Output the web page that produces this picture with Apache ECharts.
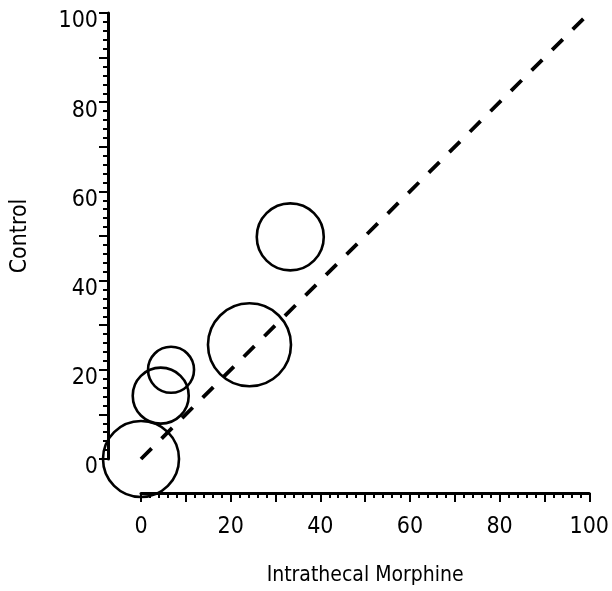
<!DOCTYPE html>
<html>
<head>
<meta charset="utf-8">
<script src="https://cdn.jsdelivr.net/npm/echarts@6/dist/echarts.min.js"></script>
<style>html,body{margin:0;padding:0;background:#fff}#c{width:612px;height:591px}</style>
</head>
<body>
<div id="c"></div>
<script>
// Data
var morphineX = [0, 4.4, 6.7, 24.2, 33.3];
var controlY = [0, 14.2, 20.0, 25.6, 49.8];
var bubbleWeights = [7.6, 5.6, 4.6, 8.3, 6.7];
var identityLine = [0, 100];
var xTicks = [0, 20, 40, 60, 80, 100];
var yTicks = [0, 20, 40, 60, 80, 100];
var xName = 'Intrathecal Morphine';
var yName = 'Control';

var FONT = "'DejaVu Sans Condensed', 'Liberation Sans', sans-serif";
var bubbles = morphineX.map(function (x, i) { return [x, controlY[i], bubbleWeights[i]]; });
var diag = identityLine.map(function (v) { return [v, v]; });

function axisCommon(ticks, isX) {
  return {
    type: 'value',
    min: ticks[0],
    max: ticks[ticks.length - 1],
    interval: 10,
    name: isX ? xName : yName,
    nameLocation: 'middle',
    nameGap: isX ? 72 : 76,
    nameTextStyle: { fontFamily: FONT, fontSize: isX ? 21 : 23, color: '#000' },
    offset: isX ? 34 : 33,
    splitLine: { show: false },
    axisLine: { show: true, onZero: false, lineStyle: { color: '#000', width: 3 } },
    axisTick: { show: true, length: 9, lineStyle: { color: '#000', width: 2 } },
    minorTick: { show: true, splitNumber: 5, length: 5, lineStyle: { color: '#000', width: 2 } },
    axisLabel: {
      margin: isX ? 23 : 10,
      fontFamily: FONT, fontSize: 23, color: '#000',
      verticalAlign: 'top',
      padding: isX ? 0 : [-3, 0, 0, 0],
      formatter: function (v) { return ticks.indexOf(v) >= 0 ? String(v) : ''; }
    }
  };
}

var chart = echarts.init(document.getElementById('c'), null, { renderer: 'canvas' });
chart.setOption({
  animation: false,
  backgroundColor: '#fff',
  grid: { left: 141, right: 21, top: 13, bottom: 128, containLabel: false },
  xAxis: axisCommon(xTicks, true),
  yAxis: axisCommon(yTicks, false),
  series: [
    {
      type: 'line',
      data: diag,
      symbol: 'none',
      clip: false,
      lineStyle: { color: '#000', width: 3.8, type: [15, 14] },
      z: 3
    },
    {
      type: 'scatter',
      data: bubbles,
      clip: false,
      symbol: 'circle',
      symbolSize: function (d) { return d[2] * 10; },
      itemStyle: { color: 'rgba(0,0,0,0)', borderColor: '#000', borderWidth: 2.6, opacity: 1 },
      z: 4
    }
  ]
});
</script>
</body>
</html>
